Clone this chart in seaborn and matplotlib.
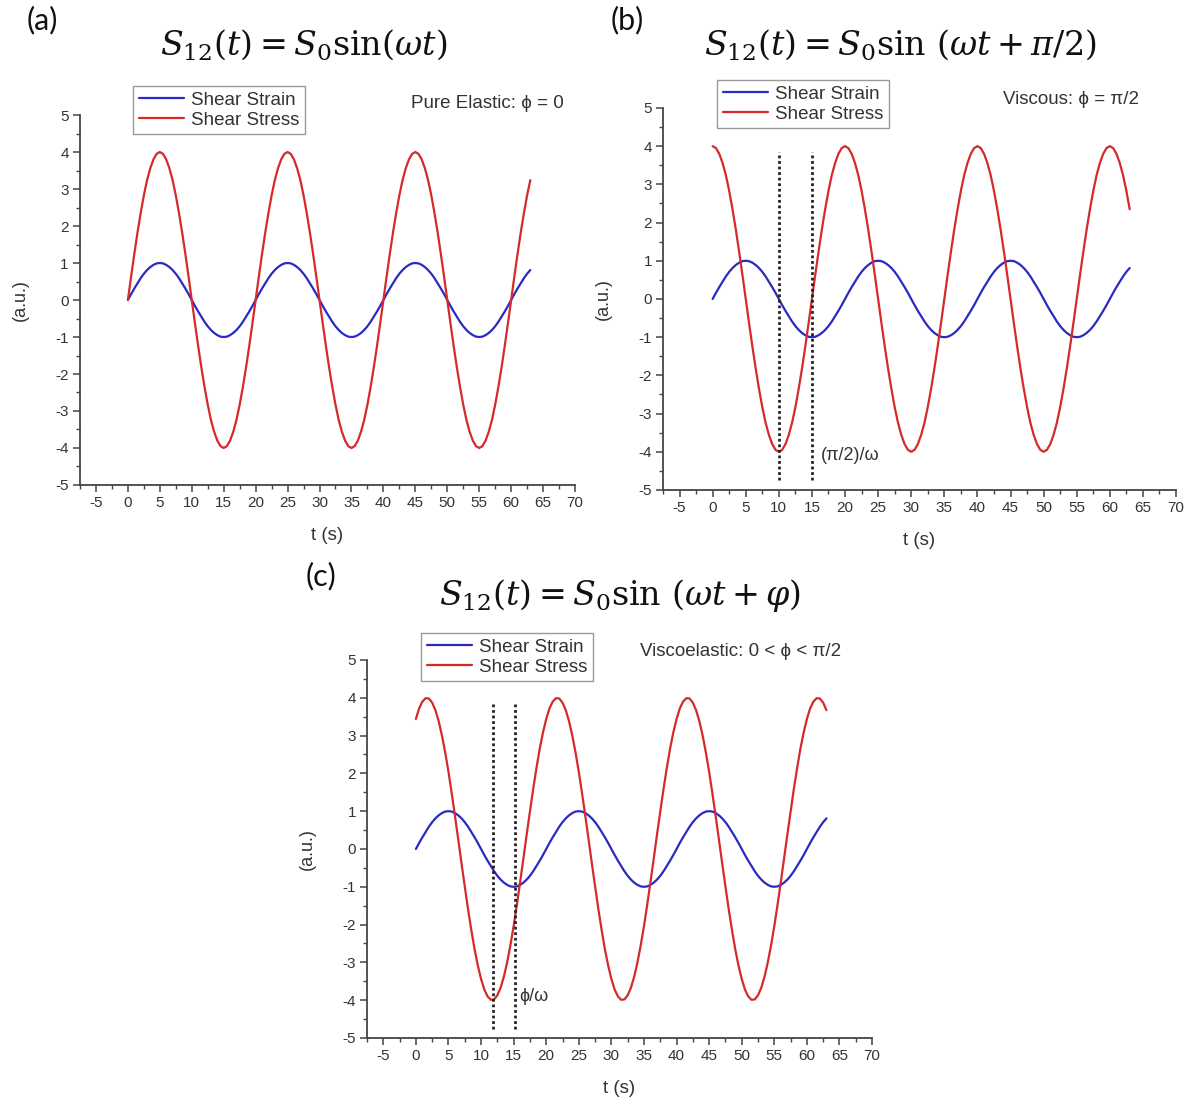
import numpy as np
import pandas as pd
import matplotlib
matplotlib.use('Agg')
import matplotlib.pyplot as plt
from matplotlib.ticker import MultipleLocator
import seaborn as sns

# tempo (s), uma leitura a cada 0,5 s
t = list(np.arange(0, 63.5, 0.5))

# deformação (igual nos três painéis)
strain = [0.0, 0.16, 0.31, 0.45, 0.59, 0.71, 0.81, 0.89, 0.95, 0.99, 1.0, 0.99, 0.95, 0.89, 0.81, 0.71, 0.59, 0.45, 0.31, 0.16,
          0.0, -0.16, -0.31, -0.45, -0.59, -0.71, -0.81, -0.89, -0.95, -0.99, -1.0, -0.99, -0.95, -0.89, -0.81, -0.71, -0.59, -0.45, -0.31, -0.16,
          0.0, 0.16, 0.31, 0.45, 0.59, 0.71, 0.81, 0.89, 0.95, 0.99, 1.0, 0.99, 0.95, 0.89, 0.81, 0.71, 0.59, 0.45, 0.31, 0.16,
          0.0, -0.16, -0.31, -0.45, -0.59, -0.71, -0.81, -0.89, -0.95, -0.99, -1.0, -0.99, -0.95, -0.89, -0.81, -0.71, -0.59, -0.45, -0.31, -0.16,
          0.0, 0.16, 0.31, 0.45, 0.59, 0.71, 0.81, 0.89, 0.95, 0.99, 1.0, 0.99, 0.95, 0.89, 0.81, 0.71, 0.59, 0.45, 0.31, 0.16,
          0.0, -0.16, -0.31, -0.45, -0.59, -0.71, -0.81, -0.89, -0.95, -0.99, -1.0, -0.99, -0.95, -0.89, -0.81, -0.71, -0.59, -0.45, -0.31, -0.16,
          0.0, 0.16, 0.31, 0.45, 0.59, 0.71, 0.81]

# tensão - elástico puro (phi = 0)
stress_a = [0.0, 0.63, 1.24, 1.82, 2.35, 2.83, 3.24, 3.56, 3.80, 3.95, 4.0, 3.95, 3.80, 3.56, 3.24, 2.83, 2.35, 1.82, 1.24, 0.63,
            0.0, -0.63, -1.24, -1.82, -2.35, -2.83, -3.24, -3.56, -3.80, -3.95, -4.0, -3.95, -3.80, -3.56, -3.24, -2.83, -2.35, -1.82, -1.24, -0.63,
            0.0, 0.63, 1.24, 1.82, 2.35, 2.83, 3.24, 3.56, 3.80, 3.95, 4.0, 3.95, 3.80, 3.56, 3.24, 2.83, 2.35, 1.82, 1.24, 0.63,
            0.0, -0.63, -1.24, -1.82, -2.35, -2.83, -3.24, -3.56, -3.80, -3.95, -4.0, -3.95, -3.80, -3.56, -3.24, -2.83, -2.35, -1.82, -1.24, -0.63,
            0.0, 0.63, 1.24, 1.82, 2.35, 2.83, 3.24, 3.56, 3.80, 3.95, 4.0, 3.95, 3.80, 3.56, 3.24, 2.83, 2.35, 1.82, 1.24, 0.63,
            0.0, -0.63, -1.24, -1.82, -2.35, -2.83, -3.24, -3.56, -3.80, -3.95, -4.0, -3.95, -3.80, -3.56, -3.24, -2.83, -2.35, -1.82, -1.24, -0.63,
            0.0, 0.63, 1.24, 1.82, 2.35, 2.83, 3.24]

# tensão - viscoso (phi = pi/2)
stress_b = [4.0, 3.95, 3.80, 3.56, 3.24, 2.83, 2.35, 1.82, 1.24, 0.63, 0.0, -0.63, -1.24, -1.82, -2.35, -2.83, -3.24, -3.56, -3.80, -3.95,
            -4.0, -3.95, -3.80, -3.56, -3.24, -2.83, -2.35, -1.82, -1.24, -0.63, 0.0, 0.63, 1.24, 1.82, 2.35, 2.83, 3.24, 3.56, 3.80, 3.95,
            4.0, 3.95, 3.80, 3.56, 3.24, 2.83, 2.35, 1.82, 1.24, 0.63, 0.0, -0.63, -1.24, -1.82, -2.35, -2.83, -3.24, -3.56, -3.80, -3.95,
            -4.0, -3.95, -3.80, -3.56, -3.24, -2.83, -2.35, -1.82, -1.24, -0.63, 0.0, 0.63, 1.24, 1.82, 2.35, 2.83, 3.24, 3.56, 3.80, 3.95,
            4.0, 3.95, 3.80, 3.56, 3.24, 2.83, 2.35, 1.82, 1.24, 0.63, 0.0, -0.63, -1.24, -1.82, -2.35, -2.83, -3.24, -3.56, -3.80, -3.95,
            -4.0, -3.95, -3.80, -3.56, -3.24, -2.83, -2.35, -1.82, -1.24, -0.63, 0.0, 0.63, 1.24, 1.82, 2.35, 2.83, 3.24, 3.56, 3.80, 3.95,
            4.0, 3.95, 3.80, 3.56, 3.24, 2.83, 2.35]

# tensão - viscoelástico (0 < phi < pi/2)
stress_c = [3.44, 3.72, 3.90, 3.99, 3.98, 3.87, 3.67, 3.38, 3.00, 2.55, 2.04, 1.47, 0.87, 0.25, -0.38, -0.99, -1.59, -2.14, -2.65, -3.08,
            -3.44, -3.72, -3.90, -3.99, -3.98, -3.87, -3.67, -3.38, -3.00, -2.55, -2.04, -1.47, -0.87, -0.25, 0.38, 0.99, 1.59, 2.14, 2.65, 3.08,
            3.44, 3.72, 3.90, 3.99, 3.98, 3.87, 3.67, 3.38, 3.00, 2.55, 2.04, 1.47, 0.87, 0.25, -0.38, -0.99, -1.59, -2.14, -2.65, -3.08,
            -3.44, -3.72, -3.90, -3.99, -3.98, -3.87, -3.67, -3.38, -3.00, -2.55, -2.04, -1.47, -0.87, -0.25, 0.38, 0.99, 1.59, 2.14, 2.65, 3.08,
            3.44, 3.72, 3.90, 3.99, 3.98, 3.87, 3.67, 3.38, 3.00, 2.55, 2.04, 1.47, 0.87, 0.25, -0.38, -0.99, -1.59, -2.14, -2.65, -3.08,
            -3.44, -3.72, -3.90, -3.99, -3.98, -3.87, -3.67, -3.38, -3.00, -2.55, -2.04, -1.47, -0.87, -0.25, 0.38, 0.99, 1.59, 2.14, 2.65, 3.08,
            3.44, 3.72, 3.90, 3.99, 3.98, 3.87, 3.67]

# linhas pontilhadas de defasagem
marks_b = [10, 15]
marks_c = [11.8, 15.2]

sns.set_style('ticks')
plt.rcParams['font.family'] = ['Liberation Sans', 'DejaVu Sans']
plt.rcParams['mathtext.fontset'] = 'dejavuserif'
plt.rcParams['axes.unicode_minus'] = False

BLUE = '#2a2ac0'
RED = '#d42a2a'
TXT = '#333333'
FAM = ['Liberation Sans', 'DejaVu Sans']

fig = plt.figure(figsize=(11.92, 11.04), dpi=100)


def px(x, y):
    # pixel da imagem -> fração da figura
    return x / 1192, 1 - y / 1104


def panel(rect, stress, letter, letter_xy, title, title_xy, note, note_xy, leg_xy,
          marks=None, mark_label=None, mark_xy=None):
    ax = fig.add_axes(rect)
    df = pd.DataFrame({'t': t, 'strain': strain, 'stress': stress})
    sns.lineplot(data=df, x='t', y='strain', ax=ax, color=BLUE, lw=1.6, label='Shear Strain')
    sns.lineplot(data=df, x='t', y='stress', ax=ax, color=RED, lw=1.6, label='Shear Stress')

    if marks is not None:
        ax.vlines(marks, -4.75, 3.85, colors='#222222', linestyles=(0, (1, 1)), lw=2)
        ax.text(mark_xy[0], mark_xy[1], mark_label, fontsize=13, color=TXT,
                ha='left', va='center', family=FAM)

    ax.set_xlim(-7.5, 70)
    ax.set_ylim(-5, 5)
    ax.xaxis.set_minor_locator(MultipleLocator(2.5))
    ax.yaxis.set_major_locator(MultipleLocator(1))
    ax.yaxis.set_minor_locator(MultipleLocator(0.5))
    ax.set_xticks(np.arange(-5, 71, 5))
    ax.tick_params(which='major', direction='out', length=5, width=1.1, colors='#444444',
                   labelsize=11, labelcolor=TXT, pad=3)
    ax.tick_params(which='minor', direction='out', length=3, width=1.0, colors='#444444')
    for s in ['top', 'right']:
        ax.spines[s].set_visible(False)
    for s in ['left', 'bottom']:
        ax.spines[s].set_color('#444444')
        ax.spines[s].set_linewidth(1.3)

    ax.set_xlabel('t (s)', fontsize=13.5, color=TXT, labelpad=12)
    ax.set_ylabel('(a.u.)', fontsize=13, color=TXT, labelpad=19)

    ax.get_legend().remove()
    h, l = ax.get_legend_handles_labels()
    fig.legend(h, l, loc='upper left', bbox_to_anchor=px(*leg_xy), fontsize=13.5,
               frameon=True, fancybox=False, edgecolor='#999999', framealpha=1,
               handlelength=2.4, handletextpad=0.4, borderpad=0.3, labelspacing=0.15,
               borderaxespad=0, labelcolor=TXT)

    fig.text(*px(*note_xy), note, fontsize=13.5, color=TXT, ha='left', va='center', family=FAM)
    fig.text(*px(*title_xy), title, fontsize=24, color='#111111', ha='center', va='center')
    fig.text(*px(*letter_xy), letter, fontsize=22, color='#111111', ha='center', va='center',
             family='Lato')
    return ax


panel([0.0671, 0.5607, 0.4153, 0.3351], stress_a, '(a)', (42, 20),
      r'$S_{12}(t) = S_0\mathrm{sin}(\omega t)$', (304, 45),
      'Pure Elastic: ϕ = 0', (411, 104), (133, 86))

panel([0.5562, 0.5562, 0.4304, 0.3460], stress_b, '(b)', (627, 20),
      r'$S_{12}(t) = S_0\mathrm{sin}\ (\omega t + \pi/2)$', (900, 45),
      'Viscous: ϕ = π/2', (1003, 100), (717, 80),
      marks=marks_b, mark_label='(π/2)/ω', mark_xy=(16.3, -4.1))

panel([0.3079, 0.0598, 0.4237, 0.3424], stress_c, '(c)', (321, 576),
      r'$S_{12}(t) = S_0\mathrm{sin}\ (\omega t + \varphi)$', (620, 596),
      'Viscoelastic: 0 < ϕ < π/2', (640, 651), (421, 633),
      marks=marks_c, mark_label='ϕ/ω', mark_xy=(15.8, -3.9))

plt.savefig('out.png', dpi=100)
